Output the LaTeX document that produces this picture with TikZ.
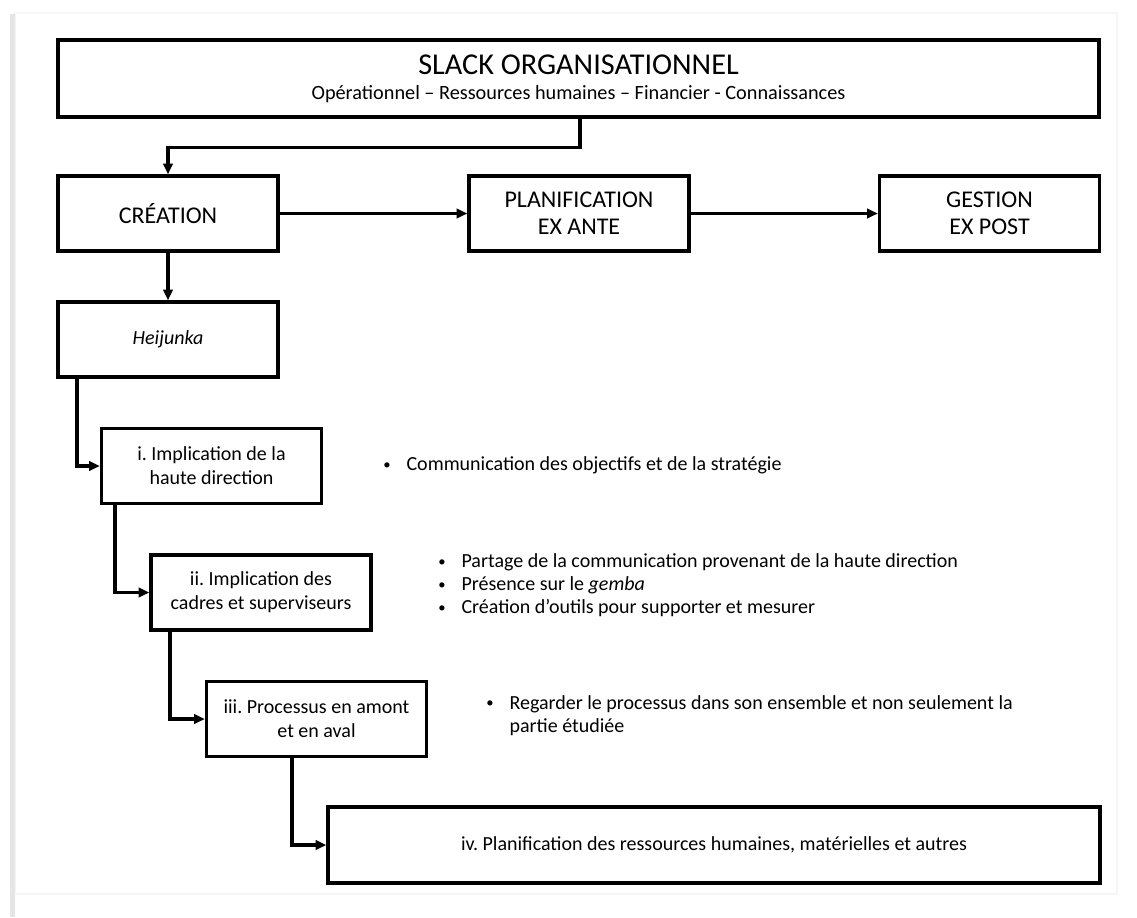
\documentclass[tikz,border=0pt]{standalone}
\usepackage{fontspec}
\setmainfont{Carlito}
\usetikzlibrary{arrows.meta}
\frenchspacing

\newcommand{\puce}{\raisebox{0.9pt}{\fontsize{11}{11}\selectfont\textbullet}}

\begin{document}
\begin{tikzpicture}[x=0.75pt,y=-0.75pt,
    boite/.style={draw,line width=2.5pt,minimum width=165pt,minimum height=56.25pt,
                  align=center,inner sep=2pt,font=\fontsize{15}{18}\selectfont},
    grande/.style={boite,font=\fontsize{18}{20}\selectfont},
    fleche/.style={line width=2.5pt,-{Triangle[length=8pt,width=7pt]}},
    puces/.style={anchor=west,inner sep=0pt,font=\fontsize{15}{17.25}\selectfont}]
    \useasboundingbox (0,0) rectangle (1137,917);
    % page
    \draw[gray!7,line width=1pt] (15,13) rectangle (1117,894);
    \fill[gray!20] (10,14) rectangle (15,917);
    % boxes
    \node[boite,minimum width=780.75pt,minimum height=57.75pt,font=\fontsize{15.2}{19}\selectfont]
        (slack) at (578.5,78.5)
        {{\fontsize{22.7}{19}\selectfont SLACK ORGANISATIONNEL}\\
         Opérationnel – Ressources humaines – Financier - Connaissances};
    \node[grande] (creation) at (168,213.5) {CRÉATION};
    \node[grande] (exante) at (579,213.5) {PLANIFICATION\\EX ANTE};
    \node[grande] (expost) at (989.5,213.5) {GESTION\\EX POST};
    \node[boite] (heijunka) at (168,339.5) {\itshape Heijunka};
    \node[boite] (direction) at (211.5,466) {i. Implication de la\\haute direction};
    \node[boite] (cadres) at (261,592.5) {ii. Implication des\\cadres et superviseurs};
    \node[boite] (processus) at (316.5,719) {iii. Processus en amont\\et en aval};
    \node[boite,minimum width=579pt,minimum height=57pt] (ressources) at (714,845)
        {iv. Planification des ressources humaines, matérielles et autres};
    % bullets
    \node[puces] (listei) at (383,466)
        {\begin{tabular}{@{}l@{\hspace{12pt}}l@{}}
         \puce & Communication des objectifs et de la stratégie
         \end{tabular}};
    \node[puces] (listeii) at (438,586)
        {\begin{tabular}{@{}l@{\hspace{12pt}}l@{}}
         \puce & Partage de la communication provenant de la haute direction\\
         \puce & Présence sur le \textit{gemba}\\
         \puce & Création d’outils pour supporter et mesurer
         \end{tabular}};
    \node[puces] (listeiii) at (486,716)
        {\begin{tabular}{@{}l@{\hspace{12pt}}l@{}}
         \puce & Regarder le processus dans son ensemble et non seulement la\\
               & partie étudiée
         \end{tabular}};
    % connectors
    \draw[fleche] (slack.south -| 580,0) -- ++(0,29) -| (creation.north);
    \draw[fleche] (creation) -- (exante);
    \draw[fleche] (exante) -- (expost);
    \draw[fleche] (creation) -- (heijunka);
    \draw[fleche] (heijunka.south -| 77,0) |- (direction.west);
    \draw[fleche] (direction.south -| 115,0) |- (cadres.west);
    \draw[fleche] (cadres.south -| 170,0) |- (processus.west);
    \draw[fleche] (processus.south -| 292,0) |- (ressources.west);
\end{tikzpicture}
\end{document}
